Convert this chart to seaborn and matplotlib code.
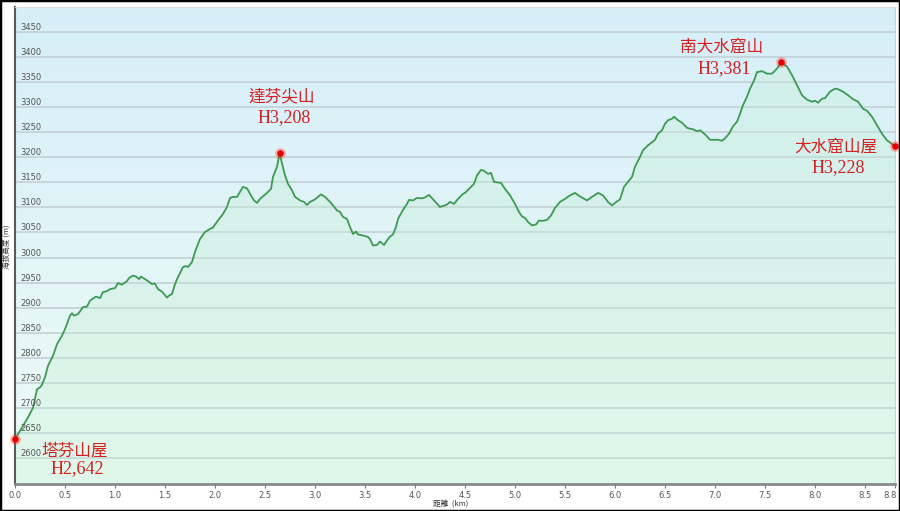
import numpy as np
import matplotlib
matplotlib.use("Agg")
import matplotlib.pyplot as plt
import matplotlib.transforms as mtransforms
import seaborn as sns
import pandas as pd
from matplotlib.patches import Rectangle

# elevation profile
dist_km = [0.00, 0.05, 0.13, 0.18, 0.22, 0.25, 0.27, 0.30, 0.33, 0.38, 0.42, 0.47, 0.50,
           0.55, 0.57, 0.59, 0.63, 0.68, 0.72, 0.75, 0.78, 0.81, 0.85, 0.88, 0.92, 0.95,
           1.00, 1.03, 1.07, 1.12, 1.14, 1.18, 1.21, 1.24, 1.26, 1.30, 1.33, 1.37, 1.40,
           1.43, 1.47, 1.52, 1.54, 1.57, 1.60, 1.63, 1.68, 1.71, 1.73, 1.77, 1.80, 1.85,
           1.90, 1.95, 1.98, 2.03, 2.08, 2.12, 2.15, 2.18, 2.22, 2.25, 2.28, 2.32, 2.36,
           2.39, 2.42, 2.45, 2.49, 2.52, 2.56, 2.58, 2.62, 2.645, 2.67, 2.70, 2.73, 2.77,
           2.80, 2.85, 2.89, 2.92, 2.95, 3.00, 3.06, 3.10, 3.15, 3.18, 3.22, 3.25, 3.28,
           3.32, 3.35, 3.38, 3.41, 3.43, 3.48, 3.53, 3.55, 3.58, 3.62, 3.65, 3.69, 3.72,
           3.75, 3.78, 3.81, 3.83, 3.88, 3.92, 3.94, 3.98, 4.02, 4.07, 4.10, 4.14, 4.19,
           4.25, 4.30, 4.32, 4.35, 4.39, 4.43, 4.48, 4.50, 4.55, 4.59, 4.62, 4.66, 4.69,
           4.73, 4.76, 4.79, 4.82, 4.86, 4.90, 4.95, 5.00, 5.04, 5.07, 5.10, 5.13, 5.17,
           5.21, 5.24, 5.27, 5.32, 5.36, 5.40, 5.45, 5.50, 5.55, 5.60, 5.64, 5.72, 5.77,
           5.83, 5.88, 5.93, 5.97, 6.02, 6.05, 6.09, 6.13, 6.17, 6.20, 6.25, 6.28, 6.33,
           6.37, 6.40, 6.43, 6.47, 6.50, 6.53, 6.57, 6.59, 6.63, 6.67, 6.72, 6.75, 6.78,
           6.82, 6.85, 6.90, 6.95, 7.00, 7.03, 7.07, 7.10, 7.14, 7.18, 7.22, 7.25, 7.28,
           7.32, 7.35, 7.39, 7.42, 7.47, 7.52, 7.57, 7.62, 7.66, 7.72, 7.77, 7.82, 7.87,
           7.92, 7.97, 8.00, 8.03, 8.07, 8.10, 8.15, 8.20, 8.23, 8.28, 8.33, 8.38, 8.43,
           8.48, 8.52, 8.57, 8.62, 8.67, 8.72, 8.80]
elev_m = [2638, 2654, 2681, 2700, 2737, 2741, 2746, 2761, 2784, 2804, 2827, 2844, 2857,
          2884, 2889, 2884, 2887, 2901, 2902, 2914, 2918, 2922, 2919, 2931, 2933, 2937,
          2939, 2949, 2946, 2953, 2959, 2964, 2962, 2957, 2962, 2957, 2953, 2947, 2948,
          2937, 2932, 2920, 2924, 2927, 2947, 2961, 2981, 2983, 2981, 2991, 3011, 3037,
          3051, 3057, 3060, 3074, 3087, 3101, 3119, 3121, 3121, 3131, 3141, 3138, 3124,
          3114, 3109, 3117, 3124, 3129, 3137, 3161, 3181, 3208, 3188, 3164, 3147, 3134,
          3121, 3114, 3111, 3105, 3111, 3116, 3126, 3121, 3111, 3104, 3094, 3091, 3081,
          3077, 3061, 3047, 3052, 3046, 3044, 3041, 3037, 3024, 3025, 3032, 3025, 3034,
          3042, 3046, 3061, 3077, 3095, 3107, 3115, 3114, 3119, 3118, 3120, 3125, 3114,
          3101, 3104, 3106, 3111, 3107, 3117, 3127, 3129, 3139, 3147, 3164, 3175, 3173,
          3167, 3169, 3151, 3150, 3149, 3137, 3124, 3107, 3091, 3082, 3079, 3071, 3064,
          3066, 3074, 3073, 3075, 3084, 3099, 3111, 3117, 3124, 3129, 3123, 3114, 3121,
          3129, 3124, 3111, 3104, 3112, 3116, 3141, 3151, 3161, 3181, 3201, 3214, 3224,
          3230, 3235, 3247, 3254, 3267, 3274, 3277, 3281, 3274, 3269, 3259, 3257, 3256,
          3252, 3254, 3246, 3235, 3235, 3235, 3233, 3238, 3247, 3262, 3271, 3287, 3304,
          3321, 3337, 3353, 3370, 3372, 3367, 3367, 3377, 3390, 3381, 3364, 3344, 3324,
          3315, 3311, 3313, 3309, 3317, 3318, 3331, 3337, 3336, 3331, 3324, 3316, 3311,
          3297, 3293, 3281, 3264, 3247, 3234, 3222]

# marked points
mark_km = [0.0, 2.645, 7.66, 8.80]
mark_names = ["塔芬山屋", "達芬尖山", "南大水窟山", "大水窟山屋"]
mark_heights = ["H2,642", "H3,208", "H3,381", "H3,228"]

y_ticks = list(range(2600, 3451, 50))
x_ticks = [0.0, 0.5, 1.0, 1.5, 2.0, 2.5, 3.0, 3.5, 4.0, 4.5, 5.0, 5.5, 6.0, 6.5,
           7.0, 7.5, 8.0, 8.5, 8.8]

df = pd.DataFrame({"km": dist_km, "elev": elev_m})

sns.set_style("white")
plt.rcParams['font.family'] = ['Noto Sans CJK TC', 'DejaVu Sans']

fig = plt.figure(figsize=(9, 5.11), dpi=100)
ax = fig.add_axes([15 / 900, 27 / 511, 880 / 900, 477 / 511])

y_lo, y_hi = 2548, 3500
ax.set_xlim(0, 8.8)
ax.set_ylim(y_lo, y_hi)

# background gradient, blue at top to mint at bottom
top_c = np.array([0.84, 0.935, 0.975])
bot_c = np.array([0.93, 0.985, 0.965])
t = np.linspace(0, 1, 256)[:, None]
grad = (top_c * (1 - t) + bot_c * t)[:, None, :]
ax.imshow(grad, extent=[0, 8.8, y_lo, y_hi], aspect='auto', zorder=0,
          origin='upper', interpolation='bilinear')

for yv in y_ticks:
    ax.axhline(yv, color='#c6d3d9', lw=1.3, zorder=1)
    ax.text(0.05, yv + 9, str(yv), fontsize=6, color='#555555',
            va='center', ha='left', family='DejaVu Sans', zorder=7)

ax.fill_between(df["km"], df["elev"], y_lo, color='#c4eed3', alpha=0.32, zorder=2, lw=0)
sns.lineplot(data=df, x="km", y="elev", color='#3d9a52', lw=1.3, ax=ax, zorder=3)

mark_elev = [elev_m[dist_km.index(k)] for k in mark_km]
ax.scatter(mark_km, mark_elev, s=60, color='#ff3030', alpha=0.35, lw=0, zorder=4, clip_on=False)
ax.scatter(mark_km, mark_elev, s=22, color='#e60000', lw=0, zorder=5, clip_on=False)

# labels beside the marked points
label_pos = [(0.60, 2614, 2578), (2.67, 3320, 3280), (7.07, 3420, 3378), (8.21, 3220, 3180)]
for (lx, ly1, ly2), nm, ht in zip(label_pos, mark_names, mark_heights):
    ax.text(lx, ly1, nm, fontsize=12, color='#d42020', ha='center', va='center', zorder=6)
    ax.text(lx + 0.02, ly2, ht, fontsize=13, color='#d42020', ha='center', va='center',
            family='Liberation Serif', zorder=6)

ax.set_xticks(x_ticks)
ax.set_xticklabels([f"{v:.1f}" for v in x_ticks])
ax.set_yticks([])
ax.tick_params(axis='x', direction='out', length=3, width=0.8, color='#777777',
               labelsize=6, labelcolor='#555555', pad=2, bottom=True)
for lbl in ax.get_xticklabels():
    lbl.set_family('DejaVu Sans')
# last label sits a little left so it stays inside the frame
last = ax.get_xticklabels()[-1]
last.set_transform(last.get_transform() +
                   mtransforms.ScaledTranslation(-5 / 100, 0, fig.dpi_scale_trans))
ax.set_xlabel("")
ax.set_ylabel("")

for side in ['left', 'bottom', 'top', 'right']:
    ax.spines[side].set_visible(True)
ax.spines['left'].set_color('#5a5a5a')
ax.spines['left'].set_linewidth(1.5)
ax.spines['bottom'].set_color('#8a8a8a')
ax.spines['bottom'].set_linewidth(2)
ax.spines['top'].set_color('#dddddd')
ax.spines['top'].set_linewidth(0.8)
ax.spines['right'].set_color('#cfcfcf')
ax.spines['right'].set_linewidth(0.8)

fig.text(8 / 900, 1 - 247 / 511, "海拔高度 (m)", rotation=90, fontsize=5.5,
         ha='center', va='center', color='#333333')
fig.text(451 / 900, 1 - 503.5 / 511, "距離  (km)", fontsize=5.5,
         ha='center', va='center', color='#333333')

fig.patches.append(Rectangle((0, 0), 1, 1, transform=fig.transFigure, fill=False,
                             edgecolor='black', lw=2.5, zorder=10))

fig.savefig("out.png", dpi=100)
